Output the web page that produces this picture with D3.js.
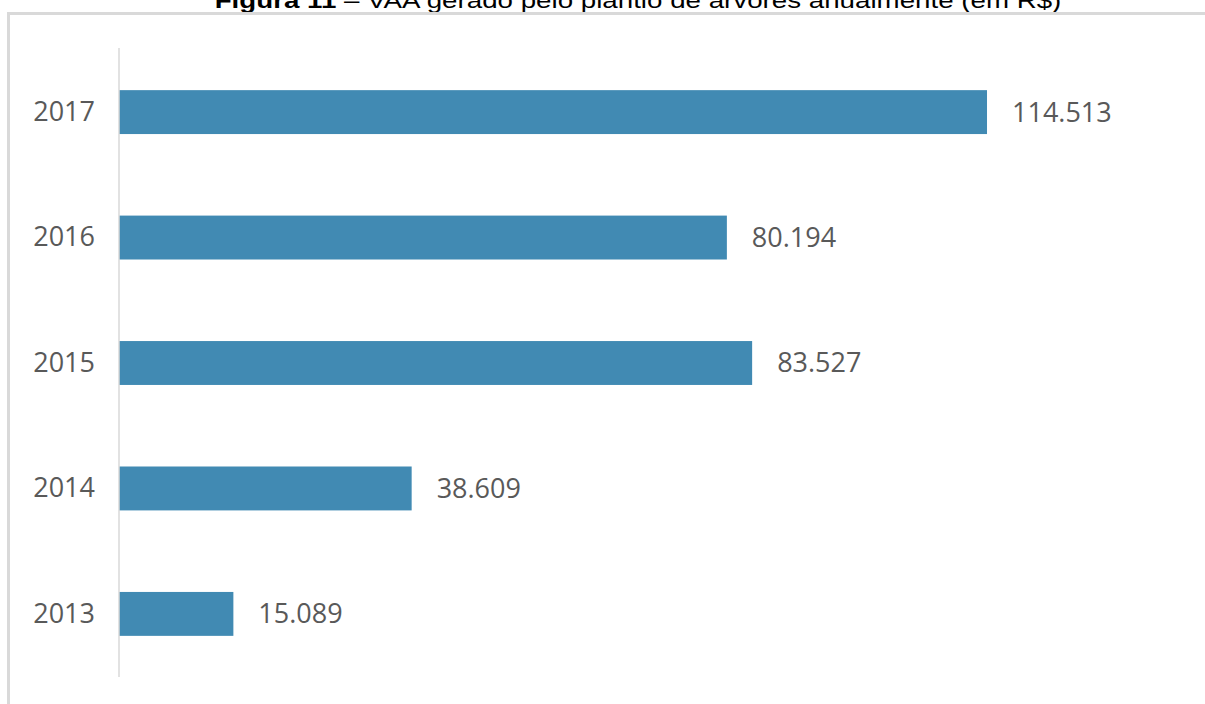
<!DOCTYPE html>
<html>
<head>
<meta charset="utf-8">
<script src="https://cdn.jsdelivr.net/npm/d3@7"></script>
<style>
  body { margin: 0; background: #fff; }
  svg { display: block; }
</style>
</head>
<body>
<div class="chart"></div>
<script>
// data
const years = ["2017", "2016", "2015", "2014", "2013"];
const values = [114.513, 80.194, 83.527, 38.609, 15.089];
const valueLabels = ["114.513", "80.194", "83.527", "38.609", "15.089"];
const titleBold = "Figura 11";
const titleRest = " – VAA gerado pelo plantio de árvores anualmente (em R$)";

const width = 1205, height = 704;
const svg = d3.select(".chart")
    .append("svg")
    .attr("width", width)
    .attr("height", height);

// title, cut at the top and stretched sideways like the scanned source
const title = svg.append("text")
    .attr("x", 0)
    .attr("y", 0)
    .attr("text-anchor", "middle")
    .attr("transform", "translate(638,8) scale(1.26,1)")
    .style("font-family", "'Liberation Sans', Arial, sans-serif")
    .style("font-size", "22px")
    .style("fill", "#000");
title.append("tspan").style("font-weight", "bold").text(titleBold);
title.append("tspan").text(titleRest);

// frame of the pasted chart (covers the title's descenders)
svg.append("rect")
    .attr("x", 8.5)
    .attr("y", 13.5)
    .attr("width", width + 10)
    .attr("height", height + 10)
    .attr("fill", "#fff")
    .attr("stroke", "#d9d9d9")
    .attr("stroke-width", 3);

const x = d3.scaleLinear()
    .domain([0, 140])
    .range([119, 119 + 140 * 7.58]);

const y = d3.scaleBand()
    .domain(years)
    .range([50, 676])
    .paddingInner(0.65)
    .paddingOuter(0.32);

svg.selectAll("rect.bar")
    .data(values)
    .enter()
    .append("rect")
    .attr("class", "bar")
    .attr("x", x(0))
    .attr("y", (d, i) => y(years[i]))
    .attr("width", d => x(d) - x(0))
    .attr("height", y.bandwidth())
    .attr("fill", "#418ab3");

// category axis: just the thin line and year labels
const yAxis = d3.axisLeft(y).tickSize(0).tickPadding(24);
const gy = svg.append("g")
    .attr("transform", "translate(" + x(0) + ",0)")
    .call(yAxis);
gy.select(".domain").remove();
gy.selectAll("text")
    .style("font-family", "'Open Sans', 'Noto Sans', sans-serif")
    .style("font-size", "27px")
    .style("fill", "#595959");

svg.append("line")
    .attr("x1", x(0))
    .attr("x2", x(0))
    .attr("y1", 48)
    .attr("y2", 677)
    .attr("stroke", "#d9d9d9")
    .attr("stroke-width", 1.5);

svg.selectAll("text.val")
    .data(values)
    .enter()
    .append("text")
    .attr("class", "val")
    .attr("x", d => x(d) + 25)
    .attr("y", (d, i) => y(years[i]) + y.bandwidth() / 2)
    .attr("dy", "0.35em")
    .text((d, i) => valueLabels[i])
    .style("font-family", "'Open Sans', 'Noto Sans', sans-serif")
    .style("font-size", "27px")
    .style("fill", "#595959");
</script>
</body>
</html>
